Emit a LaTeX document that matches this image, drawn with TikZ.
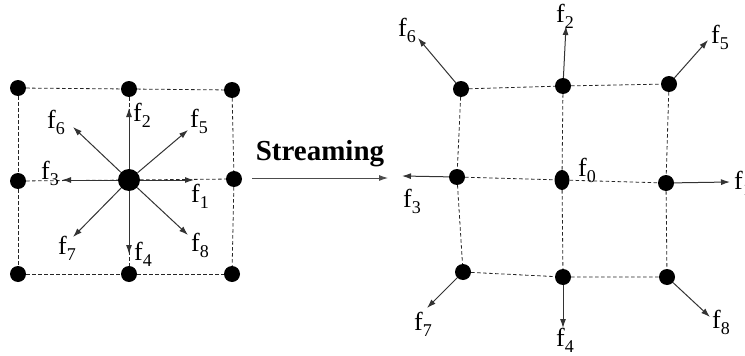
\documentclass[tikz,border=0pt]{standalone}
\usepackage{fontspec}
\setmainfont{Liberation Serif}
\usetikzlibrary{arrows.meta,shapes.geometric}
\newcommand{\fsub}[1]{f\kern0.3pt\raisebox{-6pt}{\fontsize{18}{18}\selectfont #1}}
\begin{document}
\begin{tikzpicture}[x=1pt,y=-1pt,
  dot/.style={circle,fill=black,inner sep=0pt,minimum size=16pt},
  gridl/.style={line width=0.8pt,dash pattern=on 3.5pt off 2.5pt,draw=black!85},
  vec/.style={-{Latex[length=9pt,width=6pt]},line width=1pt,draw=black!80},
  lab/.style={font=\fontsize{26}{26}\selectfont,inner sep=0pt}]
\useasboundingbox (0,0) rectangle (745,356);
% ---------- left lattice ----------
\node[dot] (a1) at (18,88) {};
\node[dot] (a2) at (129,89) {};
\node[dot] (a3) at (232,90) {};
\node[dot] (b1) at (18,181) {};
\node[dot,minimum size=22pt] (b2) at (129,180) {};
\node[dot] (b3) at (234,179) {};
\node[dot] (c1) at (18,274) {};
\node[dot] (c2) at (129,274) {};
\node[dot] (c3) at (232,274) {};
\draw[gridl] (a1) -- (a2) -- (a3);
\draw[gridl] (c1) -- (c2) -- (c3);
\draw[gridl] (a1) -- (b1) -- (c1);
\draw[gridl] (a3) -- (b3) -- (c3);
\draw[gridl] (b1) -- (b2) -- (b3);
\draw[gridl] (a2) -- (b2) -- (c2);
\coordinate (t1) at (194,180);
\coordinate (t2) at (129,108);
\coordinate (t3) at (62,180);
\coordinate (t4) at (129,254);
\coordinate (t5) at (188,130);
\coordinate (t6) at (73,127);
\coordinate (t7) at (73,237);
\coordinate (t8) at (188,235);
\foreach \t in {t1,t2,t3,t4,t5,t6,t7,t8} \draw[vec] (b2) -- (\t);
\node[lab] (l1) at (200,196) {\fsub{1}};
\node[lab] (l2) at (142,115) {\fsub{2}};
\node[lab] (l3) at (50,173) {\fsub{3}};
\node[lab] (l4) at (143,254) {\fsub{4}};
\node[lab] (l5) at (199,121) {\fsub{5}};
\node[lab] (l6) at (56,122) {\fsub{6}};
\node[lab] (l7) at (67,248) {\fsub{7}};
\node[lab] (l8) at (200,245) {\fsub{8}};
% ---------- streaming ----------
\node[font=\fontsize{29}{29}\selectfont\bfseries,inner sep=0pt] (st) at (320,154) {Streaming};
\coordinate (s0) at (252,178);
\coordinate (s1) at (388,178);
\draw[-{Latex[length=9pt,width=6pt]},line width=0.9pt,draw=black!70] (s0) -- (s1);
% ---------- right lattice ----------
\node[dot] (p1) at (461,89) {};
\node[dot] (p2) at (563,86) {};
\node[dot] (p3) at (669,84) {};
\node[dot] (q1) at (457,177) {};
\node[ellipse,fill=black,inner sep=0pt,minimum width=15pt,minimum height=20pt] (q2) at (562,180) {};
\node[dot] (q3) at (666,183) {};
\node[dot] (r1) at (463,272) {};
\node[dot] (r2) at (563,277) {};
\node[dot] (r3) at (667,277) {};
\draw[gridl] (p1) -- (p2) -- (p3);
\draw[gridl] (q1) -- (q2) -- (q3);
\draw[gridl] (r1) -- (r2) -- (r3);
\draw[gridl] (p1) -- (q1) -- (r1);
\draw[gridl] (p2) -- (q2) -- (r2);
\draw[gridl] (p3) -- (q3) -- (r3);
\coordinate (u6) at (418,38);
\coordinate (u2) at (566,26);
\coordinate (u5) at (708,40);
\coordinate (u3) at (402,176);
\coordinate (u1) at (730,182);
\coordinate (u7) at (427,308);
\coordinate (u4) at (563,328);
\coordinate (u8) at (710,317);
\draw[vec] (p1) -- (u6);
\draw[vec] (p2) -- (u2);
\draw[vec] (p3) -- (u5);
\draw[vec] (q1) -- (u3);
\draw[vec] (q3) -- (u1);
\draw[vec] (r1) -- (u7);
\draw[vec] (r2) -- (u4);
\draw[vec] (r3) -- (u8);
\node[lab] (m6) at (407,30) {\fsub{6}};
\node[lab] (m2) at (565,16) {\fsub{2}};
\node[lab] (m5) at (720,37) {\fsub{5}};
\node[lab] (m0) at (587,170) {\fsub{0}};
\node[lab,anchor=west] (m1) at (734,183) {\fsub{1}};
\node[lab] (m3) at (412,201) {\fsub{3}};
\node[lab] (m7) at (423,324) {\fsub{7}};
\node[lab] (m4) at (565,340) {\fsub{4}};
\node[lab] (m8) at (721,322) {\fsub{8}};
\end{tikzpicture}
\end{document}
